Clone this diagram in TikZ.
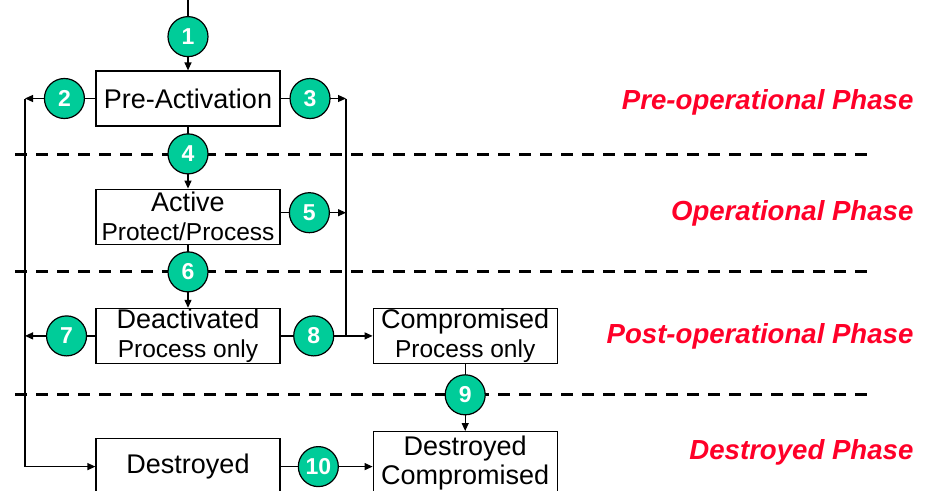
\documentclass[tikz,border=0pt]{standalone}
\usepackage{fontspec}
\setmainfont{Liberation Sans}
\usepackage{tikz}
\usetikzlibrary{arrows.meta,positioning}

\definecolor{numgreen}{RGB}{0,204,153}
\definecolor{phasered}{RGB}{255,0,40}

\begin{document}
\begin{tikzpicture}[x=1pt,y=-1pt,->,>={Triangle[length=8pt,width=7pt]},
                    line width=1.2pt]
  \tikzstyle{stage}=[draw=black,fill=white,minimum width=184pt,minimum height=55pt,
                     inner sep=0pt,align=center,font=\fontsize{27}{29}\selectfont]
  \tikzstyle{num}=[circle,draw=black,fill=numgreen,minimum size=40pt,inner sep=0pt,
                   text=white,font=\fontsize{23}{23}\selectfont\bfseries]
  \tikzstyle{phase}=[anchor=base east,text=phasered,inner sep=0pt,
                     font=\fontsize{27.6}{30}\selectfont\bfseries\itshape]
  \tikzstyle{divider}=[-,black,line width=3pt,dash pattern=on 12pt off 9pt]

  \useasboundingbox (0,0) rectangle (937,490);

  % phase borders
  \foreach \y in {154,271,394}
    \draw[divider] (15,\y) -- (875,\y);

  \coordinate (top) at (188,0);
  \coordinate (lx)  at (25,0);
  \coordinate (rx)  at (346,0);

  \node[stage] (pre)   at (188,98.5)        {Pre-Activation};
  \node[stage] (act)   [below=62pt of pre]  {Active\\\fontsize{24.5}{29}\selectfont Protect/Process};
  \node[stage] (deact) [below=63pt of act]  {Deactivated\\\fontsize{24.5}{29}\selectfont Process only};
  \node[stage] (comp)  [right=92pt of deact] {Compromised\\\fontsize{24.5}{29}\selectfont Process only};
  \node[stage,minimum height=56pt] (dest) [below=74pt of deact] {Destroyed};
  \node[stage,minimum height=62pt] (dc)   [below=67pt of comp]  {Destroyed\\Compromised};

  \coordinate (a5) at ([yshift=4pt]act.east);

  \node[phase] (preop)  at (914,109) {Pre-operational Phase};
  \node[phase] (op)     at (914,220) {Operational Phase};
  \node[phase] (postop) at (914,343) {Post-operational Phase};
  \node[phase] (destph) at (914,459) {Destroyed Phase};

  % side rails
  \draw[-] (pre.east -| rx) -- (deact.east -| rx);
  \draw (pre.west -| lx) |- (dest);

  \path (top)   edge node[num,pos=.52] {1}  (pre)
        (pre)   edge node[num,pos=.44] {2}  (pre.west -| lx)
                edge node[num,pos=.45] {3}  (pre.east -| rx)
                edge node[num,pos=.44] {4}  (act)
        (a5)    edge node[num,pos=.44] {5}  (a5 -| rx)
        (act)   edge node[num,pos=.43] {6}  (deact)
        (deact) edge node[num,pos=.41] {7}  (deact.west -| lx)
                edge node[num,pos=.36] {8}  (comp)
        (comp)  edge node[num,pos=.46] {9}  (dc)
        (dest)  edge node[num,pos=.41] {10} (dest.east -| dc.west);
\end{tikzpicture}
\end{document}
